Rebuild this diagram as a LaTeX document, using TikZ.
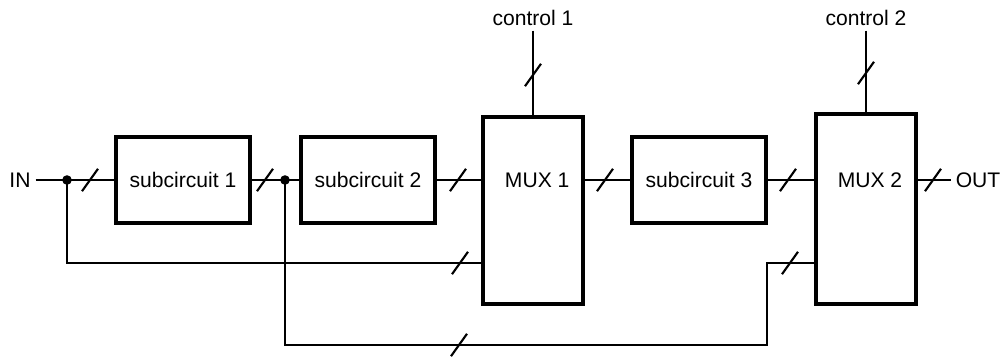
\documentclass[tikz,border=0pt]{standalone}
\usepackage{fontspec}
\setmainfont{Liberation Sans}
\usetikzlibrary{calc}

\begin{document}
\begin{tikzpicture}[
    font=\fontsize{15}{18}\selectfont,
    wire/.style={line width=1.5pt},
    block/.style={draw, line width=2.8pt, minimum width=3.35cm, minimum height=2.15cm, inner sep=0pt},
    mux/.style={draw, line width=2.8pt, minimum width=2.5cm, inner sep=0pt},
    busslash/.pic={\draw[line width=1.5pt] (-0.2,-0.28) -- (0.2,0.28);}
]
    \useasboundingbox (0,0) rectangle (25.1,9);
    % blocks
    \node (in) at (0.5,4.5) {IN};
    \node[block] (sub1) at (4.575,4.5) {subcircuit 1};
    \node[block] (sub2) at (9.2,4.5) {subcircuit 2};
    \node[mux, minimum height=4.675cm] (mux1) at (13.325,3.74) {};
    \node (mux1txt) at (13.43,4.5) {MUX 1};
    \node[block] (sub3) at (17.475,4.5) {subcircuit 3};
    \node[mux, minimum height=4.75cm] (mux2) at (21.64,3.775) {};
    \node (mux2txt) at (21.75,4.5) {MUX 2};
    \node (out) at (24.45,4.5) {OUT};
    \node (ctl1) at (13.325,8.55) {control 1};
    \node (ctl2) at (21.65,8.55) {control 2};
    \coordinate (dot1) at (1.675,4.5);
    \coordinate (dot2) at (7.125,4.5);
    \coordinate (fb) at (0,2.425);
    \coordinate (bend) at (19.175,0.375);
    % wires
    \draw[wire] (in) -- (sub1);
    \draw[wire] (sub1) -- (sub2);
    \draw[wire] (sub2.east) -- (sub2.east -| mux1.west);
    \draw[wire] (sub3.west -| mux1.east) -- (sub3.west);
    \draw[wire] (sub3.east) -- (sub3.east -| mux2.west);
    \draw[wire] (out.west -| mux2.east) -- (out);
    \draw[wire] (ctl1.south -| mux1.north) -- (mux1.north);
    \draw[wire] (ctl2.south -| mux2.north) -- (mux2.north);
    \draw[wire] (dot1) |- (mux1.west |- fb);
    \draw[wire] (dot2) |- (bend) |- (mux2.west |- fb);
    \fill (dot1) circle (0.12);
    \fill (dot2) circle (0.12);
    % bus marks
    \foreach \x/\y in {2.25/4.5, 6.625/4.5, 11.45/4.5, 15.125/4.5, 19.7/4.5, 23.325/4.5,
                       11.5/2.425, 11.475/0.375, 19.75/2.425, 13.325/7.125, 21.65/7.175}
        \pic at (\x,\y) {busslash};
\end{tikzpicture}
\end{document}
